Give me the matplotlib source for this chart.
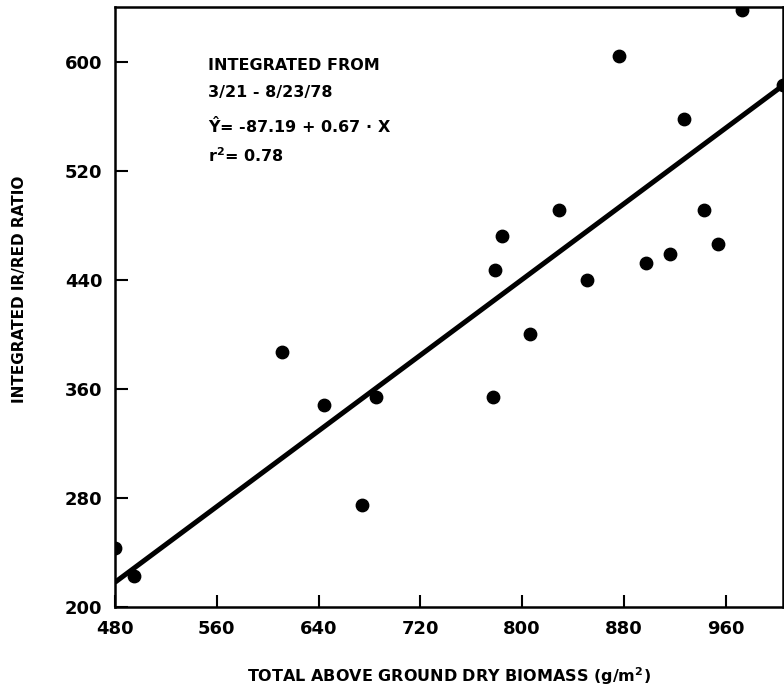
import numpy as np
import matplotlib
matplotlib.use("Agg")
import matplotlib.pyplot as plt

# biomass (g/m2) vs integrated IR/red ratio
biomass = [480, 495, 611, 644, 674, 685, 777, 779, 784, 806,
           829, 851, 876, 897, 916, 927, 943, 954, 973, 1005]
ratio = [243, 223, 387, 348, 275, 354, 354, 447, 472, 400,
         491, 440, 604, 452, 459, 558, 491, 466, 638, 583]

# regression line as drawn on the plot
fit_a = -115.0
fit_b = 0.694

xticks = [480, 560, 640, 720, 800, 880, 960]
yticks = [200, 280, 360, 440, 520, 600]

plt.rcParams['font.family'] = ['DejaVu Sans']
plt.rcParams['font.weight'] = 'bold'

fig = plt.figure(figsize=(7.84, 6.93), dpi=100)
ax = fig.add_axes([115/784, 86/693, 668/784, 600/693])

ax.scatter(biomass, ratio, s=80, color='black', zorder=3, clip_on=True)
xs = np.array([480, 1005])
ax.plot(xs, fit_a + fit_b * xs, color='black', lw=3.6, solid_capstyle='butt')

ax.set_xlim(480, 1005)
ax.set_ylim(200, 640)
ax.set_xticks(xticks)
ax.set_yticks(yticks)
ax.tick_params(direction='in', length=9, width=1.5, labelsize=13, pad=9)
for lab in ax.get_xticklabels() + ax.get_yticklabels():
    lab.set_fontweight('bold')
for sp in ax.spines.values():
    sp.set_linewidth(1.8)

ax.set_xlabel('TOTAL ABOVE GROUND DRY BIOMASS (g/m$^2$)', fontsize=11.5,
              fontweight='bold', labelpad=20)
fig.text(20/784, 1 - 289/693, 'INTEGRATED IR/RED RATIO', rotation=90,
         ha='center', va='center', fontsize=11, fontweight='bold')

tx = 0.139
ax.text(tx, 0.902, 'INTEGRATED FROM', transform=ax.transAxes,
        fontsize=11.5, fontweight='bold', va='center')
ax.text(tx, 0.858, '3/21 - 8/23/78', transform=ax.transAxes,
        fontsize=11.5, fontweight='bold', va='center')
ax.text(tx, 0.803, r'$\mathbf{\hat{Y}}$= -87.19 + 0.67 $\cdot$ X', transform=ax.transAxes,
        fontsize=11.5, fontweight='bold', va='center')
ax.text(tx, 0.753, r'r$^\mathbf{2}$= 0.78', transform=ax.transAxes,
        fontsize=11.5, fontweight='bold', va='center')

fig.savefig('out.png', dpi=100)
